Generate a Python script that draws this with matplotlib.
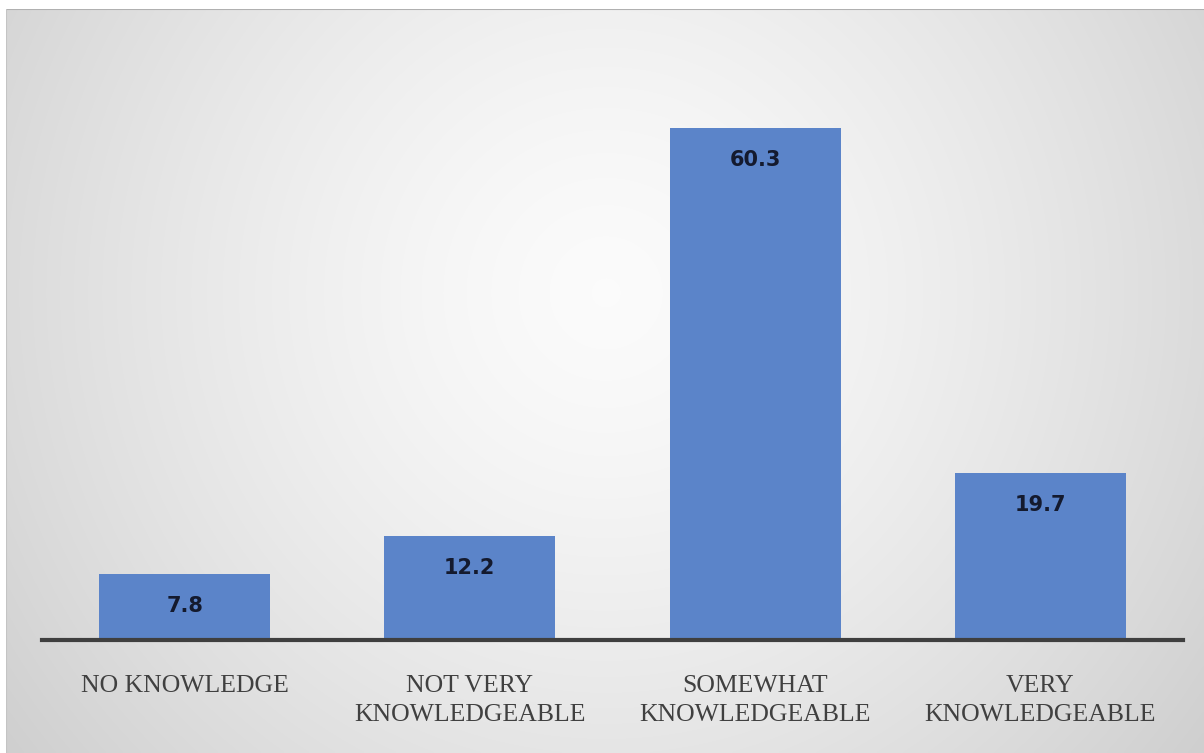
import matplotlib
matplotlib.use("Agg")
import matplotlib.pyplot as plt
import numpy as np

categories = ["NO KNOWLEDGE", "NOT VERY\nKNOWLEDGEABLE", "SOMEWHAT\nKNOWLEDGEABLE", "VERY\nKNOWLEDGEABLE"]
values = [7.8, 12.2, 60.3, 19.7]
value_labels = ["7.8", "12.2", "60.3", "19.7"]

W, H = 1204, 753
fig = plt.figure(figsize=(W / 100, H / 100), dpi=100)
fig.patch.set_facecolor("white")

# background radial gradient
bg = fig.add_axes([6 / W, 0, 1 - 6 / W, 1 - 9 / H])
bg.set_axis_off()
ny, nx = 300, 480
yy, xx = np.mgrid[0:ny, 0:nx]
cx, cy = nx * 0.5, ny * 0.38
r = np.sqrt(((xx - cx) / (nx * 0.62)) ** 2 + ((yy - cy) / (ny * 1.0)) ** 2)
r = np.clip(r, 0, 1.2)
val = 0.985 - 0.17 * r ** 1.4
img = np.dstack([val, val, val])
bg.imshow(img, aspect="auto", extent=[0, 1, 0, 1], origin="upper", interpolation="bilinear")
bg.set_xlim(0, 1); bg.set_ylim(0, 1)
bg.plot([0, 1], [1, 1], color="#b0b0b0", lw=1.5)
bg.plot([0, 0], [0, 1], color="#c4c4c4", lw=1.5)

left, right = 42 / W, 1183 / W
bottom = (H - 640) / H
top = (H - 46) / H
ax = fig.add_axes([left, bottom, right - left, top - bottom])
ax.patch.set_alpha(0)
x = np.arange(len(categories))
bars = ax.bar(x, values, width=0.6, color="#5B84C9", zorder=2)
ax.set_xlim(-0.5, 3.5)
ax.set_ylim(0, 70)
for s in ["top", "left", "right"]:
    ax.spines[s].set_visible(False)
ax.spines["bottom"].set_color("#3f3f3f")
ax.spines["bottom"].set_linewidth(3)
ax.spines["bottom"].set_zorder(3)
ax.set_yticks([])
ax.set_xticks(x)
ax.set_xticklabels(categories, fontfamily="Liberation Serif", fontsize=18.5, color="#404040",
                   linespacing=1.4)
ax.tick_params(axis="x", length=0, pad=25)

for b, lab in zip(bars, value_labels):
    ax.annotate(lab, (b.get_x() + b.get_width() / 2, b.get_height()),
                xytext=(0, -23), textcoords="offset points", ha="center", va="center",
                fontsize=15, fontweight="bold", color="#141a2e", zorder=4)

fig.savefig("out.png", dpi=100)
